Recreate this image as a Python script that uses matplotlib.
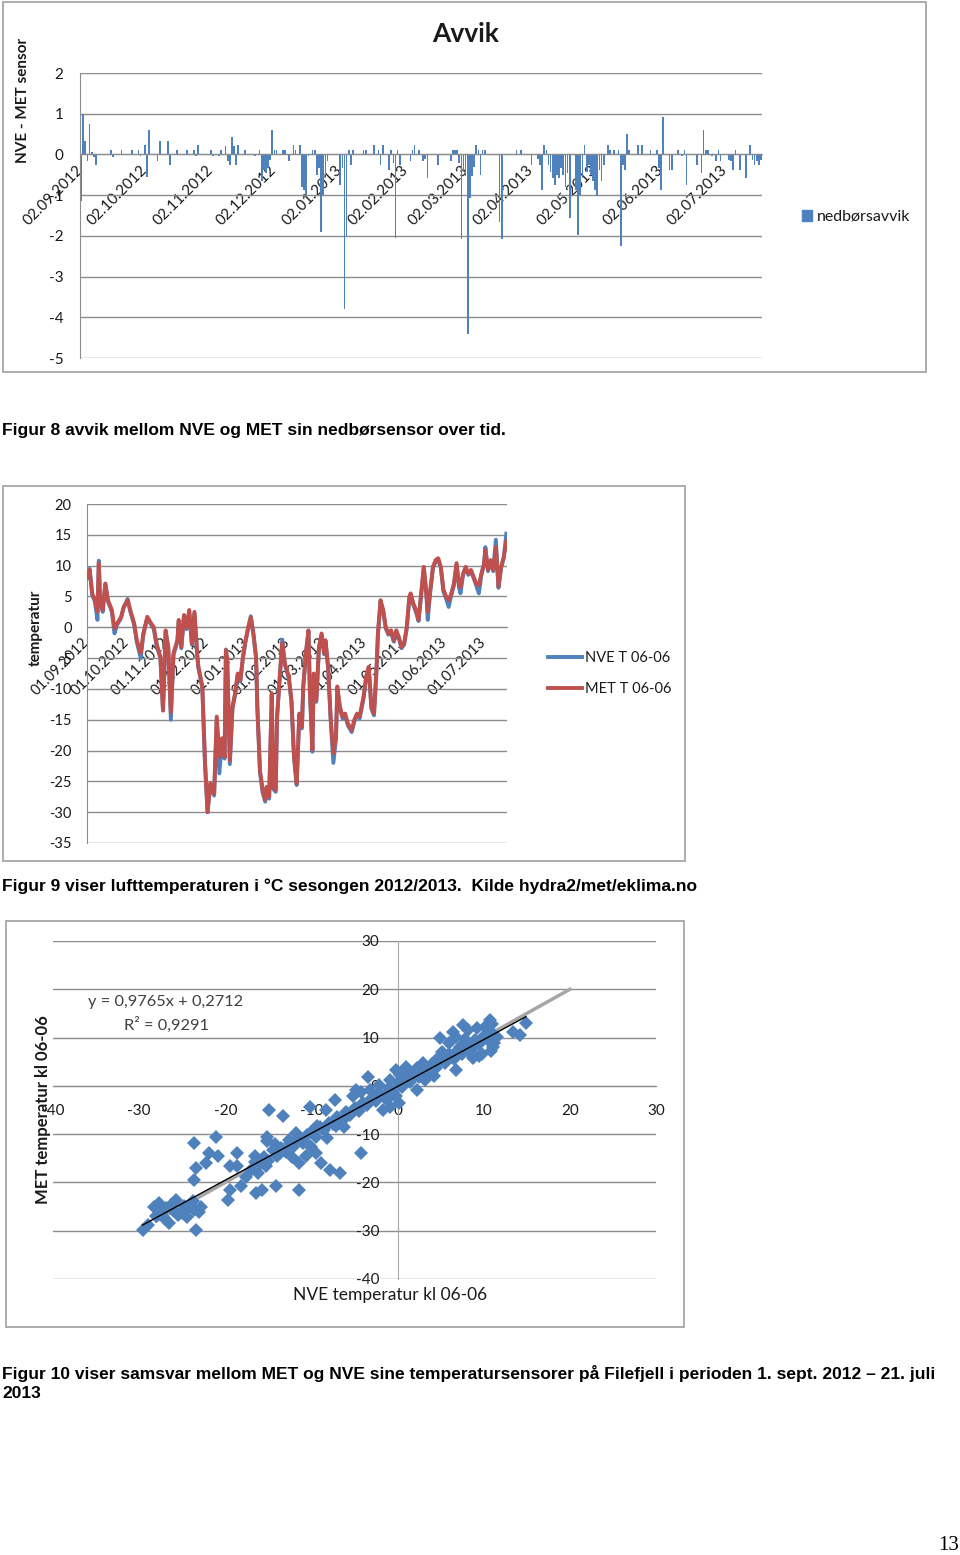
import matplotlib
matplotlib.use("Agg")
import matplotlib.pyplot as plt
import numpy as np
from matplotlib.patches import Rectangle, Patch
from datetime import datetime

plt.rcParams['font.family'] = ['Lato', 'DejaVu Sans']
plt.rcParams['axes.unicode_minus'] = False

W, H = 960, 1555
BLUE = '#4F81BD'
RED = '#C0504D'
GRID = '#8C8C8C'
TXT = '#1A1A1A'

#%% data - figur 8 (avvik, NVE - MET nedbør), dag 0 = 02.09.2012
dev_start = '02.09.2012'
dev_ticks = ['02.09.2012', '02.10.2012', '02.11.2012', '02.12.2012', '02.01.2013',
             '02.02.2013', '02.03.2013', '02.04.2013', '02.05.2013', '02.06.2013',
             '02.07.2013']
dev_day = [0, 1, 2, 3, 4, 5, 6, 7, 14, 15, 19, 24, 27, 28, 30, 31, 32, 36, 37, 41,
           42, 45, 50, 53, 54, 55, 61, 62, 65, 66, 68, 69, 70, 71, 72, 73, 74, 77,
           82, 84, 85, 86, 87, 88, 89, 90, 91, 92, 95, 96, 98, 100, 101, 103, 104,
           105, 106, 107, 109, 110, 111, 112, 113, 114, 115, 116, 122, 123, 124,
           125, 126, 127, 128, 133, 134, 138, 140, 141, 142, 145, 146, 147, 148,
           149, 150, 155, 156, 157, 159, 161, 162, 163, 168, 174, 175, 176, 177,
           178, 179, 180, 181, 182, 183, 184, 185, 186, 187, 188, 189, 190, 197,
           198, 205, 207, 212, 215, 216, 217, 218, 219, 220, 221, 222, 223, 224,
           225, 226, 227, 228, 229, 230, 233, 234, 235, 236, 237, 238, 239, 240,
           241, 242, 243, 244, 245, 246, 248, 249, 251, 253, 254, 255, 256, 257,
           258, 262, 264, 268, 271, 272, 273, 274, 277, 278, 281, 283, 284, 285,
           290, 292, 293, 294, 295, 297, 299, 300, 301, 305, 306, 307, 308, 310,
           313, 315, 316, 317, 318, 319, 320]
dev_val = [-1.15, 1.0, 0.32, -0.17, 0.75, 0.05, -0.07, -0.25, 0.1, -0.07, 0.1, 0.1,
           0.1, -0.05, 0.22, -0.55, 0.6, -0.17, 0.32, 0.32,
           -0.25, 0.1, 0.1, 0.1, -0.05, 0.22, 0.1, -0.05, -0.05, 0.1, 0.2, -0.15,
           -0.25, 0.42, 0.2, -0.25, 0.22, 0.1,
           -0.05, 0.12, -0.66, -0.38, -0.46, -0.33, -0.13, 0.6, 0.1, 0.1, 0.1, 0.1,
           -0.15, 0.22, 0.1, 0.22, -0.79,
           -0.87, -1.0, -0.05, 0.1, 0.1, -0.5, -0.33, -1.9, -1.0, -0.5, -0.17,
           -0.75, -0.33, -3.8,
           -2.0, 0.1, -0.25, 0.1, 0.1, 0.1, 0.22, 0.1, -0.25, 0.22, -0.38, 0.1,
           -0.2, -2.06,
           0.1, -0.25, -0.17, 0.12, 0.22, 0.1, -0.17, -0.1, -0.57, -0.25, -0.17,
           0.1, 0.1, 0.1,
           -0.2, -2.07, -0.43, -0.52, -4.4, -1.07, -0.52, -0.3, 0.22, 0.1, -0.5,
           0.1, 0.1, -1.66,
           -2.07, 0.1, 0.1, -0.25, -0.1, -0.25, -0.87, 0.22, 0.1, -0.25, -0.42,
           -0.58, -0.76, -0.5,
           -0.58, -0.33, -0.5, -0.79, -0.46, -1.56, -0.87, -1.97, -1.0, -0.58,
           0.22, -0.42, -0.25, -0.5,
           -0.66, -0.87, -1.03, -0.38, -0.66, -0.25, 0.22, 0.1, 0.1, 0.1, -2.26,
           -0.25, -0.38, 0.5,
           0.1, 0.22, 0.22, 0.1, 0.1, -0.33, -0.87, 0.93, -0.38, -0.38, 0.1, -0.05,
           0.1, -0.76,
           -0.25, -0.46, 0.6, 0.1, 0.1, -0.05, -0.17, 0.1, -0.17, -0.13, -0.17,
           -0.38, 0.1, -0.38,
           -0.58, 0.22, -0.13, -0.25, -0.17, -0.25, -0.13]

#%% data - figur 9 (temperatur), dag 0 = 01.09.2012
temp_start = '01.09.2012'
temp_ticks = ['01.09.2012', '01.10.2012', '01.11.2012', '01.12.2012', '01.01.2013',
              '01.02.2013', '01.03.2013', '01.04.2013', '01.05.2013', '01.06.2013',
              '01.07.2013']
temp_day = [0, 2, 4, 6, 8, 9, 10, 12, 14, 16, 19, 21, 23, 26, 28, 31, 33, 36, 38, 41,
            43, 46, 49, 51, 53, 56, 58, 60, 62, 64, 66, 69, 70, 72, 74, 76, 78, 80,
            82, 84, 85, 88, 90, 92, 94, 97, 99, 101, 103, 105, 106, 107, 109, 111,
            113, 115, 117, 119, 121, 123, 125, 127, 129, 130, 132, 134, 136, 137,
            139, 141, 142, 144, 145, 148, 149, 151, 154, 156, 158, 160, 162, 164,
            165, 167, 169, 170, 172, 173, 175, 177, 179, 181, 182, 184, 186, 188,
            190, 191, 193, 195, 197, 199, 202, 204, 206, 208, 211, 213, 215, 217,
            219, 221, 222, 224, 226, 228, 230, 232, 234, 236, 238, 240, 242, 244,
            246, 247, 249, 251, 253, 255, 257, 259, 260, 262, 264, 266, 268, 270,
            272, 274, 276, 278, 280, 282, 284, 285, 287, 289, 291, 293, 295, 297,
            299, 301, 303, 304, 306, 308, 310, 312, 314, 316, 318, 320]
met_temp = [8.2, 9.3, 5.5, 4.4, 2.5, 10.4, 4.4, 2.8, 7.1, 4.4, 2.8, -0.2, 0.6, 1.7,
            3.3, 4.4, 2.8, 0.6, -2.1, -4.2,
            -1.0, 1.7, 0.6, 0.0, -2.6, -4.8, -13.5, -0.5, -3.2, -13.8, -4.2, -2.1,
            1.2, -3.2, 2.0, 0.0, 2.8, -2.6,
            2.5, -4.2, -6.4, -9.6, -21.6, -30.0, -25.3, -27.0, -14.5, -21.0, -18.0,
            -21.0, -3.7, -5.3, -21.6, -12.9,
            -10.7, -7.5, -8.6, -4.8, -2.1, 0.0, 1.6, -1.0, -4.8, -12.9, -23.2, -26.4,
            -28.0, -25.9,
            -27.5, -10.7, -25.9, -26.4, -14.5, -5.3, -2.6, -5.9, -8.0, -11.8, -21.0,
            -25.3, -14.0, -16.1,
            -9.6, -4.2, -0.5, -9.6, -19.9, -7.5, -11.8, -3.2, -1.0, -4.2, -2.1, -6.4,
            -15.0, -20.4,
            -17.8, -9.6, -12.9, -14.5, -14.0, -15.6, -16.7, -15.0, -14.0, -14.5,
            -11.3, -8.0, -6.4, -12.9,
            -14.0, -6.4, -1.0, 4.4, 2.8, 0.0, -1.0, -0.5, -2.1, -0.5, -1.6, -3.2,
            -2.6, 0.0,
            5.0, 5.5, 3.9, 2.8, 1.2, 5.5, 9.8, 5.5, 2.5, 6.1, 9.8, 10.9, 11.2, 9.8,
            6.1, 5.0, 4.4, 5.5, 7.1, 10.4, 6.6, 6.5, 8.7, 9.8, 8.7, 9.3, 8.2, 7.1,
            6.8, 8.7, 10.4, 12.5, 9.3, 10.9, 9.3, 13.0, 6.6, 9.8, 11.4, 14.0]
nve_temp = [8.0, 9.5, 5.2, 4.2, 1.2, 10.8, 4.2, 2.5, 7.0, 4.2, 2.5, -1.0, 0.4, 1.5,
            3.2, 4.6, 2.6, 0.4, -2.4, -5.0,
            -1.2, 1.5, 0.4, -0.3, -2.9, -5.0, -13.5, -0.8, -3.4, -15.0, -4.5, -2.3,
            1.0, -3.4, 1.8, -0.3, 2.6, -2.8,
            2.3, -4.4, -6.6, -9.8, -22.0, -30.0, -25.8, -27.3, -15.0, -23.7, -18.3,
            -21.3, -3.6, -5.5, -22.2, -13.2,
            -11.0, -7.8, -8.8, -5.0, -2.3, -0.2, 1.8, -1.2, -5.0, -13.2, -23.5,
            -26.8, -28.3, -26.2,
            -27.8, -10.9, -26.2, -26.7, -14.8, -5.2, -2.0, -6.1, -8.3, -12.1, -21.3,
            -25.6, -14.3, -16.4,
            -9.9, -4.4, -0.7, -9.9, -20.2, -7.8, -12.1, -3.4, -1.2, -4.4, -2.3, -6.6,
            -15.3, -22.0,
            -18.1, -9.9, -13.2, -14.8, -14.3, -15.9, -17.0, -15.3, -14.3, -14.8,
            -11.6, -8.3, -6.7, -13.2,
            -14.3, -6.7, -1.2, 4.2, 2.6, -0.2, -1.2, -0.7, -2.3, -0.7, -1.8, -3.4,
            -2.8, -0.2,
            4.8, 5.3, 3.6, 2.5, 1.0, 5.2, 9.6, 5.2, 1.2, 5.8, 9.6, 10.6, 11.0, 9.6,
            5.8, 4.7, 3.3, 5.2, 6.8, 10.2, 6.3, 5.5, 8.5, 9.6, 8.5, 9.1, 8.0, 6.8,
            5.5, 8.5, 10.2, 13.0, 9.1, 10.7, 9.1, 14.2, 6.4, 9.6, 11.2, 15.2]

#%% data - figur 10 (spredning MET mot NVE)
scat_nve = [-29.6, -29.0, -28.3, -27.7, -27.5, -27.0, -26.9, -26.5, -26.2, -25.7,
            -25.5, -25.0, -24.8, -24.5, -24.2, -23.6, -23.4, -23.0, -22.8, -23.8,
            -26.0, -28.0,
            -23.6, -23.6, -23.4, -22.2, -21.9, -21.1, -20.9, -19.5, -19.7, -19.5,
            -18.6, -18.6, -18.2, -17.6, -16.6, -16.4, -15.7, -15.3, -15.1, -14.9,
            -14.1, -13.7, -13.3, -12.6, -11.8, -11.4, -11.4, -10.6, -10.2, -10.0,
            -9.5, -9.3, -8.9, -8.3, -7.9, -7.3, -6.7, -7.1, -6.0, -4.8, -4.2, -4.0,
            -3.4, -2.5, -1.7, -0.9, -0.2, 0.2, -0.9, -0.2, 1.0, 1.8, 2.2, 2.9, 3.7,
            4.5, 4.9, 5.3, 6.0, 6.4, 6.8, 7.2, 7.6, 8.4, 9.1, 9.5, 9.9, 10.7, 11.1,
            11.5, 13.4, 14.2, 14.9,
            -17.0, -16.5, -16.0, -15.5, -15.0, -14.5, -14.0, -13.5, -13.0, -12.5,
            -12.0, -11.5, -11.0, -10.5, -10.0, -9.5, -9.0, -8.5, -8.0, -7.5, -7.0,
            -6.5, -6.0, -5.5, -5.0, -4.5, -4.0, -3.5, -3.0, -2.5, -2.0, -1.5, -1.0,
            -0.5, 0.0, 0.5, 1.0, 1.5, 2.0, 2.5, 3.0, 3.5, 4.0, 4.5, 5.0, 5.5, 6.0,
            6.5, 7.0, 7.5, 8.0, 8.5, 9.0, 9.5, 10.0, 10.5, 11.0, 11.2, 10.8, 9.8,
            8.8, 7.8, 6.8, 8.2, 9.2, 10.2, 11.0, 5.2, 4.2, 3.2, 2.2, 1.2, 0.3, -1.2,
            -2.2, -3.2, -4.2, -5.2, -6.2, -8.2, -10.2, -12.2, -14.2, -15.2, -16.2]
scat_met = [-29.8, -28.8, -25.0, -24.3, -26.5, -27.5, -25.2, -28.4, -24.5, -23.6,
            -26.8, -26.4, -24.8, -27.2, -25.0, -25.7, -29.8, -26.2, -25.0, -23.8,
            -26.0, -27.0,
            -11.9, -19.5, -17.0, -16.0, -13.9, -10.5, -14.6, -16.7, -23.6, -21.5,
            -13.9, -16.7, -20.8, -18.8, -14.6, -22.2, -21.5, -16.7, -10.5, -5.0,
            -20.8, -13.9, -6.3, -11.2, -9.8, -21.5, -16.0, -14.6, -4.3, -12.6,
            -13.9, -8.4, -16.0, -5.0, -17.4, -2.9, -18.1, -8.4, -6.3, -0.8, -13.9,
            -3.6, 1.9, -2.9, -5.0, -4.3, -2.2, -3.6, 1.2, 3.3, 4.0, 1.9, -0.8, 4.7,
            3.3, 5.4, 9.9, 6.8, 8.8, 11.2, 3.3, 8.1, 12.6, 6.8, 8.8, 6.1, 10.2, 13.7,
            8.1, 10.2, 11.2, 10.6, 13.0,
            -17.5, -15.8, -16.2, -14.8, -15.5, -13.2, -14.5, -12.8, -13.6, -11.8,
            -12.5, -10.9, -11.8, -10.2, -9.5, -10.5, -8.5, -9.2, -7.6, -8.0, -6.5,
            -7.2, -5.5, -6.0, -4.5, -5.2, -3.5, -4.0, -2.5, -3.2, -1.5, -2.0, -0.5,
            -1.2, 0.6, -0.2, 1.5, 0.8, 2.4, 1.8, 3.3, 2.6, 4.5, 3.6, 5.5, 4.8, 6.5,
            5.6, 7.4, 6.6, 8.5, 7.5, 9.4, 8.6, 10.2, 9.5, 11.0, 8.8, 7.2, 6.5, 5.8,
            9.8, 10.2, 11.5, 12.0, 12.2, 12.8, 7.0, 2.0, 1.2, 3.8, 2.8, 2.2, -3.0,
            0.2, -0.8, -1.2, -2.2, -8.6, -10.8, -12.5, -14.8, -12.0, -11.5, -18.0]
ref_line = [-28, 20]
eq_text = 'y = 0,9765x + 0,2712'
r2_text = 'R² = 0,9291'


def px_rect(x0, y0, x1, y1):
    return [x0 / W, 1 - y1 / H, (x1 - x0) / W, (y1 - y0) / H]


def frame(x0, y0, x1, y1):
    fig.patches.append(Rectangle((x0 / W, 1 - y1 / H), (x1 - x0) / W, (y1 - y0) / H,
                                 transform=fig.transFigure, fill=False,
                                 edgecolor='#A6A6A6', lw=1.3))


def days_from(start, labels):
    s = datetime.strptime(start, '%d.%m.%Y')
    return [(datetime.strptime(t, '%d.%m.%Y') - s).days for t in labels]


def style_axis(ax):
    ax.spines['top'].set_visible(False)
    ax.spines['right'].set_visible(False)
    ax.spines['left'].set_color(GRID)
    ax.spines['bottom'].set_color(GRID)
    ax.spines['bottom'].set_position(('data', 0))
    ax.grid(axis='y', color=GRID, lw=1)
    ax.set_axisbelow(True)


fig = plt.figure(figsize=(W / 100, H / 100), dpi=100)

#%% Figur 8
frame(3, 2, 926, 372)
ax1 = fig.add_axes(px_rect(80, 73, 762, 358))
ax1.bar(dev_day, dev_val, width=0.8, color=BLUE, linewidth=0, label='nedbørsavvik')
ax1.set_xlim(-0.5, 320.5)
ax1.set_ylim(-5, 2)
ax1.set_yticks(range(-5, 3))
style_axis(ax1)
ax1.set_xticks(days_from(dev_start, dev_ticks))
ax1.set_xticklabels(dev_ticks)
plt.setp(ax1.get_xticklabels(), rotation=45, ha='right', va='center',
         rotation_mode='anchor')
ax1.tick_params(axis='x', length=0, pad=10, labelsize=11, labelcolor=TXT)
ax1.tick_params(axis='y', length=0, pad=12, labelsize=11, labelcolor=TXT)
ax1.set_ylabel('NVE - MET sensor', fontsize=11, fontweight='bold', color=TXT)
ax1.yaxis.set_label_coords(-0.073, 0.905)
fig.text(466 / W, 1 - 34 / H, 'Avvik', ha='center', va='center', fontsize=19,
         fontweight='bold', color=TXT)
ax1.legend(handles=[Patch(color=BLUE)], labels=['nedbørsavvik'], loc='center left',
           bbox_to_anchor=(1.058, 0.495), frameon=False, handlelength=0.65,
           handleheight=0.65, handletextpad=0.3, borderpad=0, borderaxespad=0,
           fontsize=11.5, labelcolor=TXT)

#%% Figur 9
frame(3, 486, 685, 861)
ax2 = fig.add_axes(px_rect(87, 504, 507, 843))
ax2.plot(temp_day, nve_temp, color=BLUE, lw=2.8, label='NVE T 06-06', zorder=3)
ax2.plot(temp_day, met_temp, color=RED, lw=2.8, label='MET T 06-06', zorder=4)
ax2.set_xlim(0, 320.5)
ax2.set_ylim(-35, 20)
ax2.set_yticks(range(-35, 21, 5))
style_axis(ax2)
ax2.set_xticks(days_from(temp_start, temp_ticks))
ax2.set_xticklabels(temp_ticks)
plt.setp(ax2.get_xticklabels(), rotation=45, ha='right', va='center',
         rotation_mode='anchor')
ax2.tick_params(axis='x', length=0, pad=9, labelsize=10.5, labelcolor=TXT)
ax2.tick_params(axis='y', length=0, pad=11, labelsize=10.5, labelcolor=TXT)
ax2.set_ylabel('temperatur', fontsize=11, fontweight='bold', color=TXT)
ax2.yaxis.set_label_coords(-0.105, 0.634)
ax2.legend(loc='center left', bbox_to_anchor=(1.098, 0.5), frameon=False,
           handlelength=2.3, handletextpad=0.2, labelspacing=1.2, borderpad=0,
           borderaxespad=0, fontsize=10.5, labelcolor=TXT)

#%% Figur 10
frame(6, 921, 684, 1327)
ax3 = fig.add_axes(px_rect(53, 941, 656, 1279))
ax3.plot(ref_line, ref_line, color='#A6A6A6', lw=2.5, zorder=2)
ax3.plot(scat_nve, scat_met, linestyle='none', marker='D', markersize=7.5,
         color=BLUE, markeredgewidth=0, zorder=3)
k, m = np.polyfit(scat_nve, scat_met, 1)
xf = np.array([min(scat_nve), max(scat_nve)])
ax3.plot(xf, k * xf + m, color='black', lw=1, zorder=4)
ax3.set_xlim(-40, 30)
ax3.set_ylim(-40, 30)
ax3.set_xticks(range(-40, 31, 10))
ax3.set_yticks(range(-40, 31, 10))
ax3.spines['top'].set_visible(False)
ax3.spines['right'].set_visible(False)
ax3.spines['left'].set_position(('data', 0))
ax3.spines['bottom'].set_position(('data', 0))
ax3.spines['left'].set_color('#A6A6A6')
ax3.spines['left'].set_linewidth(0.8)
ax3.spines['bottom'].set_color(GRID)
ax3.grid(axis='y', color=GRID, lw=1)
ax3.set_axisbelow(True)
ax3.tick_params(length=0, labelsize=11, labelcolor=TXT)
ax3.tick_params(axis='x', pad=13)
ax3.tick_params(axis='y', pad=13)
ax3.set_xlabel('NVE temperatur kl 06-06', fontsize=12.5, color=TXT)
ax3.xaxis.set_label_coords(0.559, -0.025)
ax3.set_ylabel('MET temperatur kl 06-06', fontsize=12, fontweight='bold', color=TXT)
ax3.yaxis.set_label_coords(-0.004, 0.5)
fig.text(88 / W, 1 - 1002 / H, eq_text, ha='left', va='center', fontsize=11.8,
         color='#404040')
fig.text(124 / W, 1 - 1025 / H, r2_text, ha='left', va='center', fontsize=11.8,
         color='#404040')

#%% bildetekster
cap = dict(ha='left', va='center', fontsize=12.5, fontweight='bold', color='black',
           family=['Liberation Sans Narrow', 'Liberation Sans'])
fig.text(2 / W, 1 - 430 / H,
         'Figur 8 avvik mellom NVE og MET sin nedbørsensor over tid.', **cap)
fig.text(2 / W, 1 - 886 / H,
         'Figur 9 viser lufttemperaturen i °C sesongen 2012/2013.  '
         'Kilde hydra2/met/eklima.no', **cap)
fig.text(2 / W, 1 - 1373 / H,
         'Figur 10 viser samsvar mellom MET og NVE sine temperatursensorer på '
         'Filefjell i perioden 1. sept. 2012 – 21. juli', **cap)
fig.text(2 / W, 1 - 1393 / H, '2013', **cap)
fig.text(959 / W, 1 - 1545 / H, '13', ha='right', va='center', fontsize=15,
         family=['Liberation Serif', 'DejaVu Serif'])

fig.savefig('out.png', dpi=100)
